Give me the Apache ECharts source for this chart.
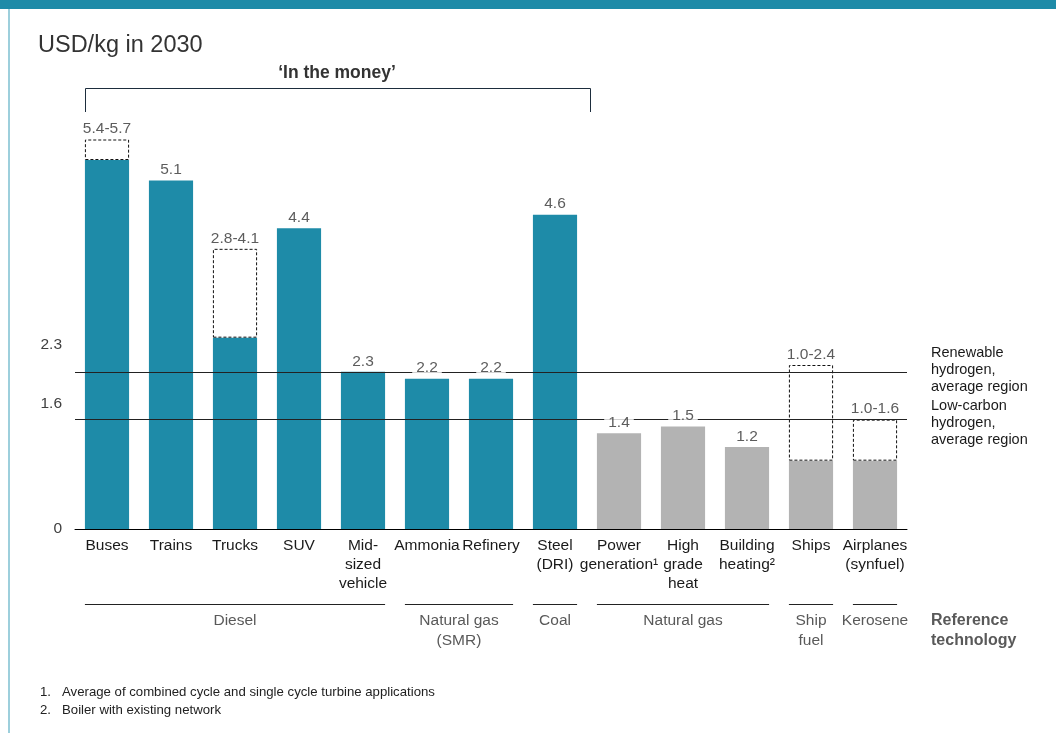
<!DOCTYPE html>
<html><head><meta charset="utf-8">
<script src="https://cdn.jsdelivr.net/npm/echarts@6/dist/echarts.min.js"></script>
<style>html,body{margin:0;padding:0;background:#fff}#c{width:1056px;height:733px}</style>
</head><body><div id="c"></div>
<script>
// ---------- data ----------
const categories = ['Buses','Trains','Trucks','SUV','Mid-\nsized\nvehicle','Ammonia','Refinery','Steel\n(DRI)','Power\ngeneration\u00b9','High\ngrade\nheat','Building\nheating\u00b2','Ships','Airplanes\n(synfuel)'];
const baseValues = [5.4, 5.1, 2.8, 4.4, 2.3, 2.2, 2.2, 4.6, 1.4, 1.5, 1.2, 1.0, 1.0];
const rangeTops  = [5.7, null, 4.1, null, null, null, null, null, null, null, null, 2.4, 1.6];
const inTheMoney = [true, true, true, true, true, true, true, true, false, false, false, false, false];
const refLineValues = [2.3, 1.6];
const refLineNames = ['Renewable\nhydrogen,\naverage region', 'Low-carbon\nhydrogen,\naverage region'];
const yTickLabels = [0];
const groupNames = ['Diesel', 'Natural gas\n(SMR)', 'Coal', 'Natural gas', 'Ship\nfuel', 'Kerosene'];
const groupFrom  = [0, 5, 7, 8, 11, 12];
const groupTo    = [4, 6, 7, 10, 11, 12];
const title = 'USD/kg in 2030';
const bracketText = '\u2018In the money\u2019';
const bracketFrom = 0, bracketTo = 7;
const refTechText = 'Reference\ntechnology';
const footnotes = ['Average of combined cycle and single cycle turbine applications', 'Boiler with existing network'];

// ---------- style ----------
const TEAL = '#1e8ba8', GREY = '#b3b3b3';
const FONT = '"Liberation Sans", Arial, sans-serif';
const FS = 15.5;
const fmt = v => v.toFixed(1);

const chart = echarts.init(document.getElementById('c'), null, {renderer: 'canvas'});

const option = {
  animation: false,
  backgroundColor: '#fff',
  textStyle: {fontFamily: FONT},
  grid: {left: 75, right: 149, top: 119, bottom: 204},
  xAxis: {
    type: 'category', data: categories,
    axisLine: {lineStyle: {color: '#000', width: 1}},
    axisTick: {show: false},
    axisLabel: {interval: 0, color: '#1a1a1a', fontSize: FS, lineHeight: 19, margin: 7, fontFamily: FONT}
  },
  yAxis: {
    type: 'value', min: 0, max: 6, interval: 1,
    axisLine: {show: false}, axisTick: {show: false}, splitLine: {show: false},
    axisLabel: {color: '#404040', fontSize: FS, margin: 13, fontFamily: FONT,
      formatter: v => yTickLabels.includes(v) ? String(v) : ''}
  },
  series: [
    {
      type: 'bar', stack: 'a', z: 2, barWidth: '69%',
      data: baseValues.map((v, i) => ({value: v, itemStyle: {color: inTheMoney[i] ? TEAL : GREY}}))
    },
    {
      type: 'bar', stack: 'a', z: 2, barWidth: '69%',
      data: rangeTops.map((t, i) => t == null ? null : +(t - baseValues[i]).toFixed(2)),
      itemStyle: {color: 'rgba(0,0,0,0)', borderColor: '#111', borderWidth: 1, borderType: [3, 2]}
    },
    {
      type: 'line', z: 3, data: [], silent: true,
      markLine: {
        silent: true, symbol: ['none', 'none'], animation: false,
        data: [
          ...refLineValues.map((v, i) => ({
            yAxis: v,
            lineStyle: {color: '#222', width: 1, type: 'solid'},
            label: {show: true, position: 'end', distance: 24, formatter: refLineNames[i],
              color: '#1a1a1a', fontSize: 14.5, lineHeight: 17, fontFamily: FONT,
              align: 'left', offset: [0, i === 0 ? -2 : 3]}
          })),
          ...refLineValues.map((v, i) => ({
            yAxis: v,
            lineStyle: {color: 'rgba(0,0,0,0)', width: 1, type: 'solid'},
            label: {show: true, position: 'start', distance: 13, formatter: fmt(v),
              color: '#404040', fontSize: FS, fontFamily: FONT, offset: [0, i === 0 ? -27 : -16]}
          }))
        ]
      }
    },
    {
      type: 'scatter', z: 5, silent: true, symbolSize: 1,
      itemStyle: {color: 'rgba(0,0,0,0)'},
      data: baseValues.map((v, i) => [i, rangeTops[i] == null ? v : rangeTops[i]]),
      label: {
        show: true, position: 'top', distance: 2,
        color: '#333', fontSize: FS, lineHeight: 16, fontFamily: FONT,
        backgroundColor: '#fff', padding: [0, 4],
        formatter: p => rangeTops[p.dataIndex] == null ? fmt(baseValues[p.dataIndex])
          : fmt(baseValues[p.dataIndex]) + '-' + fmt(rangeTops[p.dataIndex])
      }
    }
  ]
};
chart.setOption(option);

// ---------- annotations positioned from the axes ----------
const xPix = i => chart.convertToPixel({xAxisIndex: 0}, i);
const y0 = Math.round(chart.convertToPixel({yAxisIndex: 0}, 0));
const band = xPix(1) - xPix(0);
const half = band * 0.69 / 2;
const crisp = v => Math.round(v) + 0.5;
const els = [];

// top band and left border
els.push({type: 'rect', shape: {x: 0, y: 0, width: 1056, height: 9}, style: {fill: TEAL}, silent: true});
els.push({type: 'line', shape: {x1: 9, y1: 9, x2: 9, y2: 733}, style: {stroke: '#7dbfd0', lineWidth: 1.5}, silent: true});
// title
els.push({type: 'text', x: 38, y: 46, style: {text: title, fontSize: 23.5, fontFamily: FONT, fill: '#333', textVerticalAlign: 'middle'}});
// bracket
const bl = crisp(xPix(bracketFrom) - half), br = crisp(xPix(bracketTo) + band / 2 + 3);
els.push({type: 'polyline', shape: {points: [[bl, 112], [bl, 88.5], [br, 88.5], [br, 112]]}, style: {stroke: '#1d2d3d', lineWidth: 1, fill: null}, silent: true});
els.push({type: 'text', x: (bl + br) / 2 - 1, y: 73, style: {text: bracketText, fontSize: 17.5, fontWeight: 'bold', fontFamily: FONT, fill: '#333', textAlign: 'center', textVerticalAlign: 'middle'}});
// group lines & labels
groupNames.forEach((g, k) => {
  const a = xPix(groupFrom[k]) - half, b = xPix(groupTo[k]) + half;
  els.push({type: 'line', shape: {x1: a, y1: y0 + 75.5, x2: b, y2: y0 + 75.5}, style: {stroke: '#222', lineWidth: 1}, silent: true});
  els.push({type: 'text', x: (a + b) / 2, y: y0 + 82, style: {text: g, fontSize: FS, lineHeight: 20, fontFamily: FONT, fill: '#595959', textAlign: 'center', textVerticalAlign: 'top'}});
});
els.push({type: 'text', x: 931, y: y0 + 82, style: {text: refTechText, fontSize: 16, lineHeight: 20, fontWeight: 'bold', fontFamily: FONT, fill: '#595959', textAlign: 'left', textVerticalAlign: 'top'}});
// footnotes
footnotes.forEach((f, k) => {
  els.push({type: 'text', x: 40, y: 692 + k * 18, style: {text: (k + 1) + '.', fontSize: 13.2, fontFamily: FONT, fill: '#222', textVerticalAlign: 'middle'}});
  els.push({type: 'text', x: 62, y: 692 + k * 18, style: {text: f, fontSize: 13.2, fontFamily: FONT, fill: '#222', textVerticalAlign: 'middle'}});
});
chart.setOption({graphic: {elements: els}});
</script></body></html>
